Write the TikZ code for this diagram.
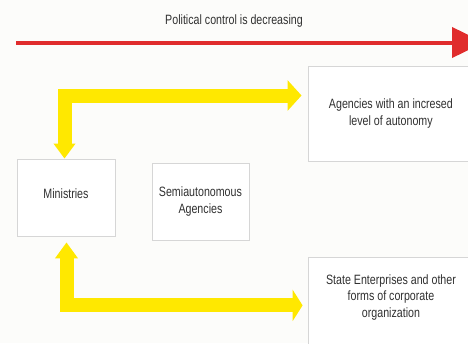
\documentclass[tikz,border=0pt]{standalone}
\usepackage{fontspec}
\setmainfont{Liberation Sans}[FakeStretch=0.79]
\usepackage{tikz}
\usetikzlibrary{arrows.meta}
\definecolor{paper}{RGB}{252,252,250}
\definecolor{boxline}{RGB}{214,214,214}
\definecolor{textgray}{RGB}{48,48,48}
\definecolor{flowyellow}{RGB}{255,232,0}
\definecolor{controlred}{RGB}{224,44,44}

\tikzset{
  orgbox/.style={draw=boxline, line width=0.8pt, fill=white, rectangle, align=center, text=textgray, font=\fontsize{13.5}{16.5}\selectfont},
  orgtext/.style={align=center, text=textgray, font=\fontsize{13.5}{16.5}\selectfont},
  flow/.style={line width=14pt, flowyellow, line join=miter},
}

\begin{document}
\begin{tikzpicture}[x=1pt, y=-1pt]
\clip (0,0) rectangle (468,343);
\fill[paper] (0,0) rectangle (468,343);

% red arrow along the top
\node[orgtext] (title) at (234,21) {Political control is decreasing};
\coordinate (redstart) at (16,42.5);
\coordinate (redend) at (484,42.5);
\draw [-{Triangle[width=30pt,length=32pt]},line width=4pt,controlred] (redstart) -- (redend);

% boxes
\node[orgbox, minimum width=98pt, minimum height=77pt, text depth=8pt] (min) at (66,197.5) {Ministries};
\node[orgbox, minimum width=97pt, minimum height=77pt, right of=min, xshift=106pt, yshift=-4pt] (semi) {Semiautonomous\\Agencies};
\node[orgbox, minimum width=166pt, minimum height=95pt, right of=semi, xshift=162pt, yshift=88pt] (agencies) {Agencies with an incresed\\level of autonomy};
\node[orgbox, minimum width=166pt, minimum height=100pt, anchor=north] (state) at (391,257) {};
\node[orgtext, yshift=10pt] (statetext) at (state) {State Enterprises and other\\forms of corporate\\organization};

% yellow double arrows
\draw [flow, {Triangle[width=21pt,length=15pt]}-{Triangle[width=30pt,length=14pt]}, shorten >=6pt] ([xshift=-1.5pt]min.north) |- ([yshift=18pt]agencies.west);
\draw [flow, {Triangle[width=22pt,length=16pt]}-{Triangle[width=31pt,length=10pt]}, shorten <=6pt, shorten >=5pt] ([xshift=0.5pt]min.south) |- ([yshift=2pt]state.west);
\end{tikzpicture}
\end{document}
